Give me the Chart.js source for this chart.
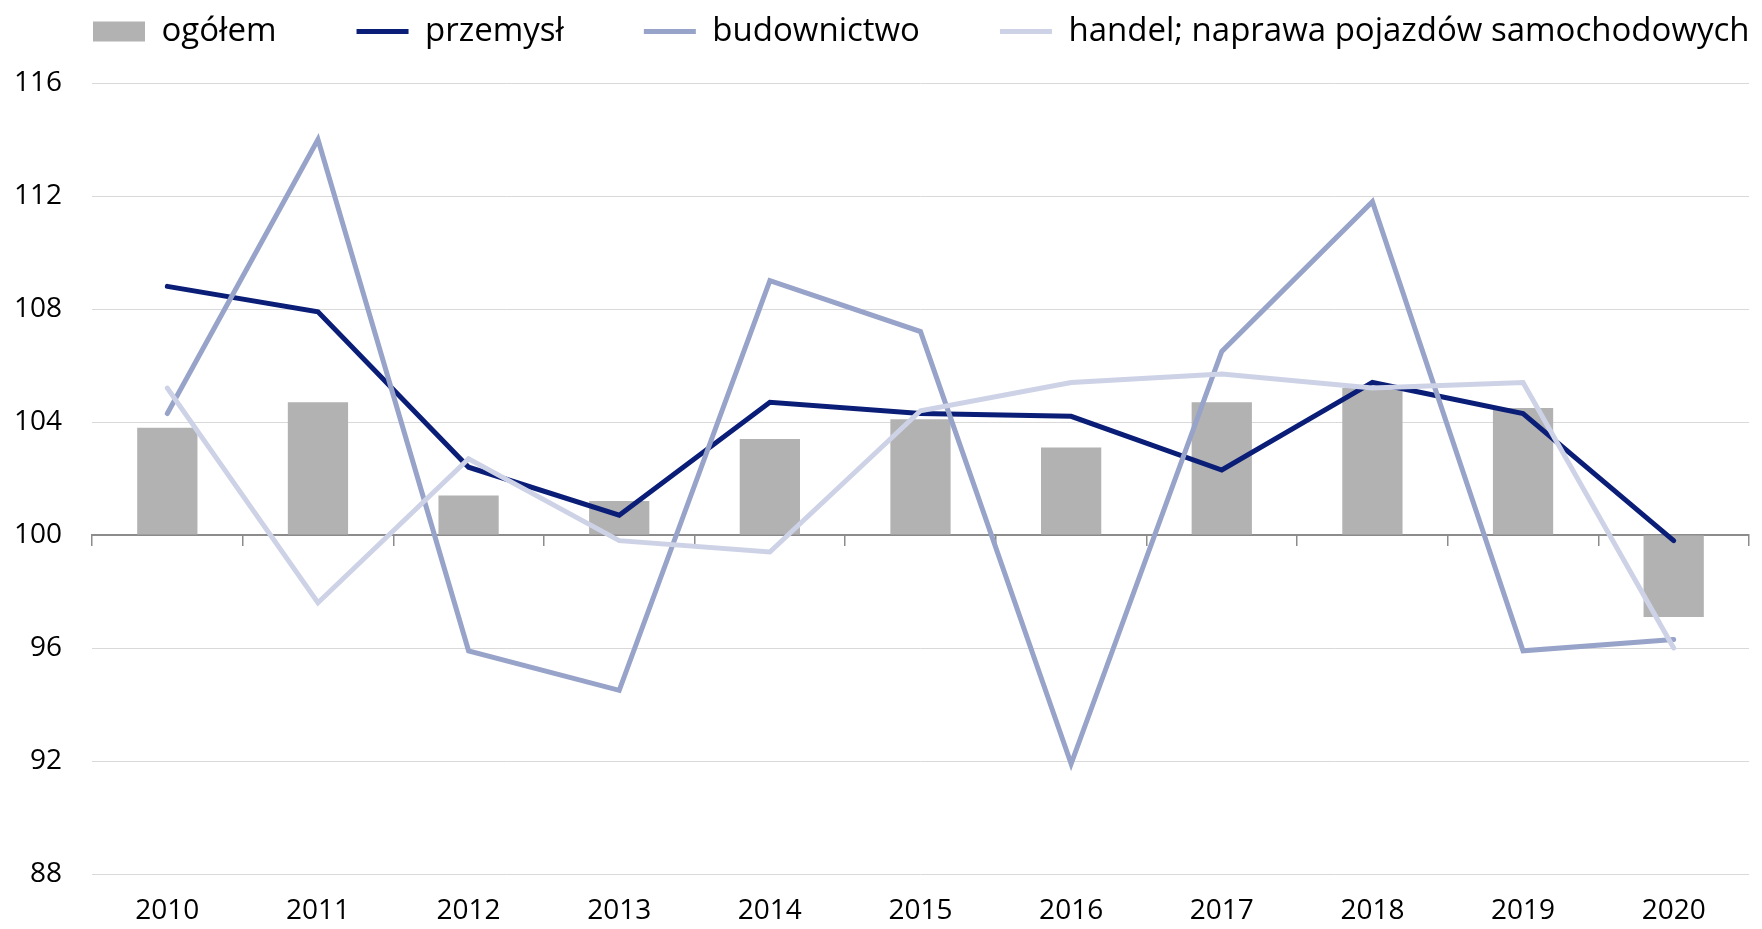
<!DOCTYPE html>
<html>
<head>
<meta charset="utf-8">
<script src="https://cdn.jsdelivr.net/npm/chart.js@4/dist/chart.umd.min.js"></script>
<style>
  html, body { margin: 0; padding: 0; background: #fff; }
  #wrap { width: 1762px; height: 929px; position: relative; }
</style>
</head>
<body>
<div id="wrap"><canvas id="c" width="1762" height="929"></canvas></div>
<script>
const categories = ['2010','2011','2012','2013','2014','2015','2016','2017','2018','2019','2020'];
const ogolem      = [103.8, 104.7, 101.4, 101.2, 103.4, 104.1, 103.1, 104.7, 105.2, 104.5, 97.1];
const przemysl    = [108.8, 107.9, 102.4, 100.7, 104.7, 104.3, 104.2, 102.3, 105.4, 104.3, 99.8];
const budownictwo = [104.3, 114.0, 95.9, 94.5, 109.0, 107.2, 91.9, 106.5, 111.8, 95.9, 96.3];
const handel      = [105.2, 97.6, 102.7, 99.8, 99.4, 104.4, 105.4, 105.7, 105.2, 105.4, 96.0];
const yTicks = [88, 92, 96, 100, 104, 108, 112, 116];

const FONT = "'Open Sans', 'Noto Sans', sans-serif";
const LEGEND_GAP = 80;     // horizontal gap between legend items
const LEGEND_HEIGHT = 83;  // space reserved above the plot
const LEGEND_SHIFT = 65;   // vertical shift of the legend row

const legendTweak = {
  id: 'legendTweak',
  beforeInit(chart) {
    const lg = chart.legend;
    const fit = lg.fit;
    lg.fit = function () {
      const mw = this.maxWidth;
      this.maxWidth = 5000;
      fit.call(this);
      this.maxWidth = mw;
      this.width = mw;
      this.height = LEGEND_HEIGHT;
    };
    const draw = lg.draw;
    lg.draw = function () {
      const t = this.top, r = this.right;
      this.top = t - LEGEND_SHIFT;
      this.right = 5000;
      draw.call(this);
      this.top = t;
      this.right = r;
    };
  }
};

const lineDs = (label, data, color, order) => ({
  type: 'line', label, data, borderColor: color, backgroundColor: color,
  borderWidth: 5, pointRadius: 0, pointHoverRadius: 0, tension: 0,
  borderCapStyle: 'round', borderJoinStyle: 'miter', pointStyle: 'line', order
});

new Chart(document.getElementById('c'), {
  type: 'bar',
  data: {
    labels: categories,
    datasets: [
      { type: 'bar', label: 'ogółem', data: ogolem, base: 100, backgroundColor: '#B2B2B2',
        borderWidth: 0, barPercentage: 0.8, categoryPercentage: 0.5, pointStyle: 'rect', order: 4 },
      lineDs('przemysł', przemysl, '#0A1E78', 3),
      lineDs('budownictwo', budownictwo, '#98A3C9', 2),
      lineDs('handel; naprawa pojazdów samochodowych', handel, '#CDD2E6', 1)
    ]
  },
  plugins: [legendTweak],
  options: {
    responsive: false,
    animation: false,
    devicePixelRatio: 1,
    layout: { padding: { left: 13, right: 13, top: 0, bottom: 0 } },
    plugins: {
      tooltip: { enabled: false },
      legend: {
        position: 'top',
        align: 'start',
        labels: {
          font: { family: FONT, size: 33 },
          color: '#000',
          usePointStyle: true,
          pointStyleWidth: 52,
          boxWidth: 52,
          boxHeight: 20,
          padding: LEGEND_GAP,
          sort: (a, b) => a.datasetIndex - b.datasetIndex
        }
      }
    },
    scales: {
      x: {
        type: 'category',
        position: 'bottom',
        offset: true,
        grid: { display: false, drawTicks: false },
        border: { display: false },
        ticks: { font: { family: FONT, size: 28 }, color: '#000', padding: 20 },
        afterFit(s) { s.height = 55; }
      },
      x2: {
        type: 'category',
        axis: 'x',
        labels: categories,
        position: { y: 100 },
        offset: true,
        grid: { display: true, drawOnChartArea: false, drawTicks: true, tickLength: 10,
                color: '#8C8C8C', lineWidth: 1.5, offset: true },
        border: { display: true, color: '#8C8C8C', width: 2 },
        ticks: { display: false }
      },
      y: {
        min: 88, max: 116,
        afterBuildTicks(s) { s.ticks = yTicks.map(v => ({ value: v })); },
        grid: { color: '#D9D9D9', lineWidth: 1, drawTicks: false },
        border: { display: false },
        ticks: { font: { family: FONT, size: 28 }, color: '#000', padding: 30 },
        afterFit(s) { s.width = 79; }
      }
    }
  }
});
</script>
</body>
</html>
